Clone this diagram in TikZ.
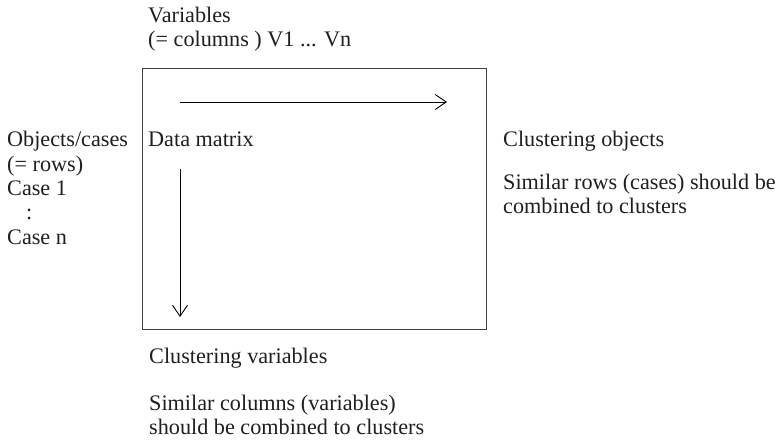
\documentclass[tikz,border=0pt]{standalone}
\usepackage{fontspec}
\setmainfont{Liberation Serif}
\usetikzlibrary{arrows.meta}

\begin{document}
\begin{tikzpicture}[x=1bp, y=-1bp,
  txt/.style={anchor=base west, inner sep=0pt, text=black!88,
    font=\fontsize{22.2bp}{26bp}\selectfont},
  frame/.style={draw=black!75, line width=1.3bp},
  flow/.style={draw=black, line width=0.9bp,
    -{Straight Barb[length=11bp, width=15bp, line width=0.9bp]}}]

  \useasboundingbox (0,0) rectangle (777,442);

  % data matrix frame
  \node[frame, minimum width=344bp, minimum height=261bp, anchor=north west,
        inner sep=0pt] (box) at (142,68) {};

  % column header above the matrix
  \node[txt] (var1) at (148,23) {Variables};
  \node[txt] (var2) at (148,47) {(= columns ) V1 ... Vn};

  % row header left of the matrix
  \node[txt] (obj1) at (7,147) {Objects/cases};
  \node[txt] (obj2) at (7,172) {(= rows)};
  \node[txt] (obj3) at (7,196) {Case 1};
  \node[txt] (obj4) at (7,220) {\hspace*{19bp}:};
  \node[txt] (obj5) at (7,245) {Case n};

  % matrix label
  \node[txt] (dm) at (148,147) {Data matrix};

  % direction arrows inside the matrix
  \coordinate (hs) at (180,102);
  \coordinate (he) at (447,102);
  \coordinate (vs) at (180,169);
  \coordinate (ve) at (180,317);
  \draw[flow] (hs) -- (he);
  \draw[flow] (vs) -- (ve);

  % clustering of objects (right)
  \node[txt] (co1) at (503,147) {Clustering objects};
  \node[txt] (co2) at (503,190) {Similar rows (cases) should be};
  \node[txt] (co3) at (503,214) {combined to clusters};

  % clustering of variables (below)
  \node[txt] (cv1) at (149,364) {Clustering variables};
  \node[txt] (cv2) at (149,410) {Similar columns (variables)};
  \node[txt] (cv3) at (149,434) {should be combined to clusters};
\end{tikzpicture}
\end{document}
